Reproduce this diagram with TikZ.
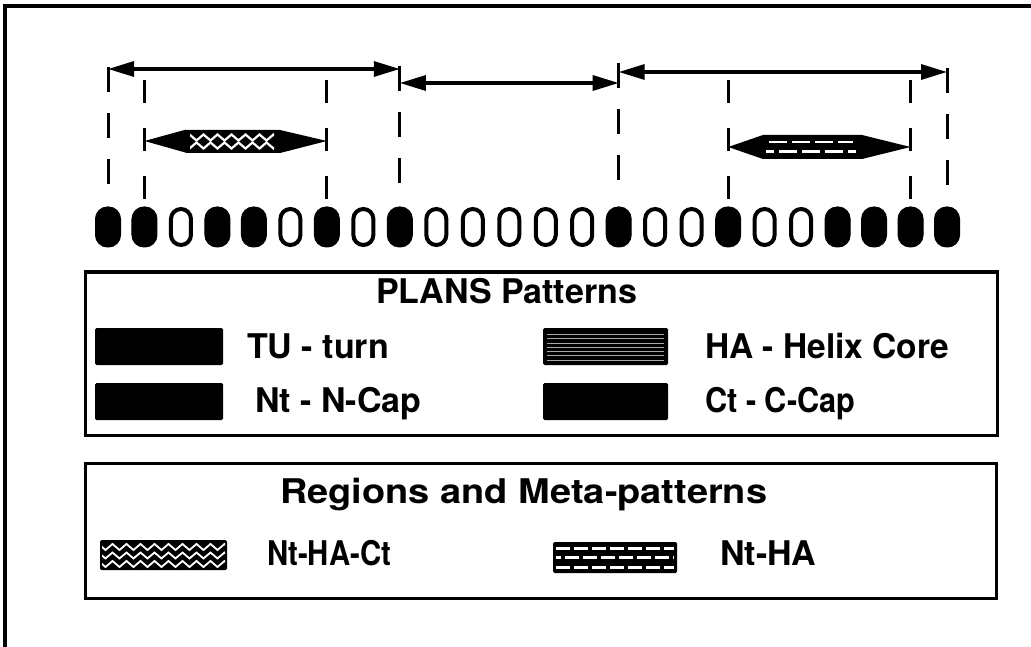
\documentclass[tikz,border=0pt]{standalone}
\usepackage{fontspec}
\setmainfont{TeX Gyre Heros}
\usetikzlibrary{arrows.meta,decorations.pathmorphing}
\begin{document}
\begin{tikzpicture}[x=1pt,y=-1pt,
  full/.style={draw=black,fill=black,line width=1pt,minimum width=25pt,minimum height=40pt,rounded corners=12pt,inner sep=0pt},
  hollow/.style={draw=black,fill=white,line width=4pt,minimum width=20pt,minimum height=36pt,rounded corners=10pt,inner sep=0pt},
  guide/.style={line width=3pt,dash pattern=on 25pt off 21pt},
  innerguide/.style={line width=3pt,dash pattern=on 23pt off 25pt},
  span/.style={line width=3.2pt,{Triangle[length=26pt,width=15pt]}-{Triangle[length=26pt,width=15pt]}},
  bar/.style={fill=black},
  legbox/.style={line width=3pt},
  swatch/.style={fill=black,rounded corners=1.5pt},
  lab/.style={anchor=base west,inner sep=0pt,font=\fontsize{34}{40}\selectfont\bfseries},
  zig/.style={white,line width=1.8pt,decorate,decoration={zigzag,segment length=14pt,amplitude=3pt}},
  brick/.style={white,line width=3pt}
]
\useasboundingbox (0,0) rectangle (1031,647);
% outer frame
\draw[line width=4pt] (5,647) -- (5,6) -- (1031,6);
% residue ovals
\foreach \i/\t in {1/full,2/full,3/hollow,4/full,5/full,6/hollow,7/full,8/hollow,9/full,10/hollow,11/hollow,12/hollow,13/hollow,14/hollow,15/full,16/hollow,17/hollow,18/full,19/hollow,20/hollow,21/full,22/full,23/full,24/full}
  \node[\t] (o\i) at ({108+36.48*(\i-1)},227) {};
% arrow coordinates
\coordinate (a1) at (o1.north |- 0,69);
\coordinate (b1) at (o9.north |- 0,69);
\coordinate (a2) at (o9.north |- 0,83);
\coordinate (b2) at (o15.north |- 0,83);
\coordinate (a3) at (o15.north |- 0,72);
\coordinate (b3) at (o24.north |- 0,72);
\draw[span] (a1) -- (b1);
\draw[span] (a2) -- (b2);
\draw[span] (a3) -- (b3);
% outer guides
\coordinate (g1) at (o1.north |- 0,67);
\coordinate (g9) at (o9.north |- 0,66);
\coordinate (g15) at (o15.north |- 0,63);
\coordinate (g24) at (o24.north |- 0,68);
\draw[guide] (g1) -- (o1.north |- 0,186);
\draw[guide] (g9) -- (o9.north |- 0,186);
\draw[guide] (g15) -- (o15.north |- 0,184);
\draw[guide] (g24) -- (o24.north |- 0,186);
% inner guides
\foreach \k in {2,7,18,23}
  \draw[innerguide] (o\k.north |- 0,80) -- (o\k.north |- 0,203);
% helix bar 1 (Nt-HA-Ct)
\coordinate (h1l) at (o2.north |- 0,141);
\coordinate (h1r) at (o7.north |- 0,141);
\fill[bar] (h1l) -- ++(40,-11) -- (280,130) -- (h1r) -- (280,153) -- (187,153) -- cycle;
\begin{scope}
  \clip (190,133) rectangle (274,150);
  \draw[zig,line width=2.2pt] (186,137.5) -- (280,137.5);
  \draw[zig,line width=2.2pt] (179,145.5) -- (280,145.5);
\end{scope}
% helix bar 2 (Nt-HA)
\coordinate (h2l) at (o18.north |- 0,147);
\coordinate (h2r) at (o23.north |- 0,147);
\fill[bar] (h2l) -- (763,135) -- (862,135) -- (h2r) -- (862,159) -- (763,159) -- cycle;
\draw[brick,line width=2.6pt,dash pattern=on 18pt off 5pt] (769,142) -- (853,142);
\draw[brick,line width=2.6pt,dash pattern=on 18pt off 5pt,dash phase=10pt] (766,151.5) -- (856,151.5);
% legend box 1
\draw[legbox] (85,272) rectangle (997,435);
\node[lab] (t1) at (376,303) {PLANS Patterns};
\fill[swatch] (95,328) rectangle (223,365);
\node[lab] (l1) at (247,358) {TU - turn};
\fill[swatch] (95,383) rectangle (223,420);
\node[lab] (l2) at (255,412) {Nt - N-Cap};
\fill[swatch] (543,328) rectangle (668,365);
\foreach \yy in {334,338.5,343,347,351,355.5,360}
  \draw[gray!70,line width=0.7pt] (547,\yy) -- (664,\yy);
\node[lab] (l3) at (705,358) {\resizebox{244pt}{\height}{HA - Helix Core}};
\fill[swatch] (543,383) rectangle (668,420);
\node[lab] (l4) at (705,412) {\resizebox{150pt}{\height}{Ct - C-Cap}};
% legend box 2
\draw[legbox] (85,463) rectangle (996,598);
\node[lab] (t2) at (280,503) {\resizebox{487pt}{\height}{Regions and Meta-patterns}};
\fill[swatch] (100,540) rectangle (227,570);
\begin{scope}
  \clip (102,542) rectangle (225,568);
  \draw[zig] (95,547) -- (235,547);
  \draw[zig] (95,555.5) -- (235,555.5);
  \draw[zig] (95,564) -- (235,564);
\end{scope}
\node[lab] (l5) at (267,565) {\resizebox{124pt}{\height}{Nt-HA-Ct}};
\fill[swatch] (553,542) rectangle (677,573);
\draw[brick,dash pattern=on 14pt off 4pt] (556,548) -- (674,548);
\draw[brick,dash pattern=on 14pt off 4pt,dash phase=9pt] (556,557.5) -- (674,557.5);
\draw[brick,dash pattern=on 14pt off 4pt] (556,567) -- (674,567);
\node[lab] (l6) at (720,565) {Nt-HA};
\end{tikzpicture}
\end{document}
